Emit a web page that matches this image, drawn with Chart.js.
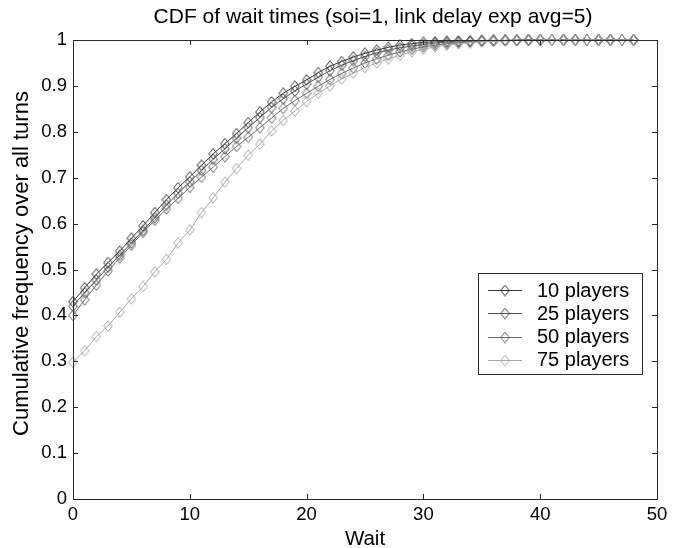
<!DOCTYPE html>
<html>
<head>
<meta charset="utf-8">
<script src="https://cdn.jsdelivr.net/npm/chart.js@4/dist/chart.umd.min.js"></script>
<style>
html,body{margin:0;padding:0;background:#fff;}
#wrap{width:685px;height:548px;position:relative;}
</style>
</head>
<body>
<div id="wrap"><canvas id="c" width="685" height="548"></canvas></div>
<script>
const waits = [0,1,2,3,4,5,6,7,8,9,10,11,12,13,14,15,16,17,18,19,20,21,22,23,24,25,26,27,28,29,30,31,32,33,34,35,36,37,38,39,40,41,42,43,44,45,46,47,48];
const seriesNames = ["10 players","25 players","50 players","75 players"];
const players10 = [0.430,0.460,0.490,0.515,0.540,0.568,0.595,0.624,0.652,0.678,
0.702,0.727,0.752,0.774,0.796,0.820,0.843,0.865,0.884,0.899,
0.913,0.929,0.943,0.953,0.963,0.971,0.978,0.984,0.989,0.992,
0.995,0.996,0.997,0.998,0.998,0.999,0.999,0.999,1.000,1.000,
1.000,1.000,1.000,1.000,1.000,1.000,1.000,1.000,1.000];
const players25 = [0.420,0.450,0.477,0.505,0.531,0.558,0.585,0.613,0.640,0.666,
0.691,0.716,0.740,0.763,0.786,0.809,0.831,0.853,0.872,0.889,
0.904,0.919,0.933,0.945,0.955,0.964,0.972,0.978,0.983,0.987,
0.990,0.993,0.995,0.996,0.997,0.998,0.999,0.999,0.999,1.000,
1.000,1.000,1.000,1.000,1.000,1.000,1.000,1.000,1.000];
const players50 = [0.400,0.434,0.466,0.497,0.525,0.553,0.581,0.607,0.632,0.655,
0.679,0.701,0.723,0.746,0.768,0.788,0.809,0.830,0.851,0.868,
0.884,0.899,0.914,0.927,0.939,0.950,0.959,0.967,0.974,0.980,
0.985,0.989,0.992,0.994,0.996,0.997,0.998,0.999,0.999,1.000,
1.000,1.000,1.000,1.000,1.000,1.000,1.000,1.000,1.000];
const players75 = [0.298,0.323,0.354,0.377,0.407,0.436,0.463,0.495,0.522,0.558,
0.586,0.624,0.656,0.690,0.720,0.749,0.773,0.802,0.825,0.845,
0.866,0.884,0.900,0.915,0.928,0.940,0.950,0.959,0.967,0.974,
0.980,0.985,0.989,0.992,0.994,0.996,0.997,0.998,0.999,0.999,
1.000,1.000,1.000,1.000,1.000,1.000,1.000,1.000,1.000];
const xTicks = [0,10,20,30,40,50];
const yTicks = [0,0.1,0.2,0.3,0.4,0.5,0.6,0.7,0.8,0.9,1];
const titleText = "CDF of wait times (soi=1, link delay exp avg=5)";
const xTitle = "Wait";
const yTitle = "Cumulative frequency over all turns";

const colors = ["#383838","#505050","#686868","#a8a8a8"];
const FONT = "'Liberation Sans', Arial, sans-serif";
const AXIS = "#2a2a2a";

function makeDiamond(color){
  const w = 10, h = 12;
  const cv = document.createElement('canvas');
  cv.width = w; cv.height = h;
  const g = cv.getContext('2d');
  g.strokeStyle = color; g.lineWidth = 1;
  g.beginPath();
  g.moveTo(w/2, 0.7); g.lineTo(w-0.7, h/2); g.lineTo(w/2, h-0.7); g.lineTo(0.7, h/2); g.closePath();
  g.stroke();
  return cv;
}

const allSeries = [players10, players25, players50, players75];
const datasets = allSeries.map((arr, i) => ({
  label: seriesNames[i],
  data: waits.map((w, j) => ({x: w, y: arr[j]})),
  borderColor: colors[i],
  backgroundColor: colors[i],
  borderWidth: 1,
  pointStyle: makeDiamond(colors[i]),
  pointRadius: 5,
  tension: 0,
  clip: false,
  order: 4 - i
}));

const frame = {
  id: 'frame',
  afterDatasetsDraw(chart){
    const {ctx, chartArea: a, scales} = chart;
    ctx.save();
    ctx.strokeStyle = AXIS; ctx.lineWidth = 1;
    ctx.strokeRect(Math.round(a.left)+0.5, Math.round(a.top)+0.5, Math.round(a.right-a.left), Math.round(a.bottom-a.top));
    const L = 5;
    ctx.beginPath();
    xTicks.forEach(v => {
      const x = Math.round(scales.x.getPixelForValue(v)) + 0.5;
      ctx.moveTo(x, a.bottom); ctx.lineTo(x, a.bottom - L);
      ctx.moveTo(x, a.top); ctx.lineTo(x, a.top + L);
    });
    yTicks.forEach(v => {
      const y = Math.round(scales.y.getPixelForValue(v)) + 0.5;
      ctx.moveTo(a.left, y); ctx.lineTo(a.left + L, y);
      ctx.moveTo(a.right, y); ctx.lineTo(a.right - L, y);
    });
    ctx.stroke();
    ctx.fillStyle = "#000";
    ctx.textAlign = "center"; ctx.textBaseline = "middle";
    // title
    ctx.font = "21px " + FONT;
    ctx.fillText(titleText, (a.left + a.right)/2 + 8, 17);
    // x title
    ctx.font = "20.5px " + FONT;
    ctx.fillText(xTitle, (a.left + a.right)/2, 539);
    // y title
    ctx.save();
    ctx.translate(22, (a.top + a.bottom)/2 - 6);
    ctx.rotate(-Math.PI/2);
    ctx.font = "22px " + FONT;
    ctx.fillText(yTitle, 0, 0);
    ctx.restore();
    // legend
    const bx = 478, by = 273, bw = 164, bh = 101;
    ctx.fillStyle = "#fff";
    ctx.fillRect(bx, by, bw, bh);
    ctx.strokeStyle = AXIS;
    ctx.strokeRect(bx + 0.5, by + 0.5, bw, bh);
    chart.data.datasets.forEach((ds, i) => {
      const y = by + 17 + i * 23.3;
      ctx.strokeStyle = ds.borderColor; ctx.lineWidth = 1;
      ctx.beginPath(); ctx.moveTo(bx + 10, Math.round(y)+0.5); ctx.lineTo(bx + 44, Math.round(y)+0.5); ctx.stroke();
      ctx.drawImage(ds.pointStyle, bx + 27 - 5, Math.round(y) - 5.5);
      ctx.fillStyle = "#000";
      ctx.font = "20px " + FONT;
      ctx.textAlign = "left"; ctx.textBaseline = "middle";
      ctx.fillText(ds.label, bx + 59, y + 1);
    });
    ctx.restore();
  }
};

new Chart(document.getElementById('c'), {
  type: 'line',
  data: { datasets },
  plugins: [frame],
  options: {
    responsive: false,
    animation: false,
    devicePixelRatio: 1,
    layout: { padding: { top: 40, right: 28, left: 0, bottom: 0 } },
    plugins: { legend: { display: false }, title: { display: false }, tooltip: { enabled: false } },
    scales: {
      x: {
        type: 'linear', min: 0, max: 50,
        afterBuildTicks: s => { s.ticks = xTicks.map(v => ({value: v})); },
        afterFit: s => { s.height = 49; },
        grid: { display: false, drawTicks: false },
        border: { display: false },
        ticks: { color: "#000", font: { size: 18.5, family: FONT }, padding: 5, maxRotation: 0 },
        title: { display: false }
      },
      y: {
        type: 'linear', min: 0, max: 1,
        afterBuildTicks: s => { s.ticks = yTicks.map(v => ({value: v})); },
        afterFit: s => { s.width = 73; },
        grid: { display: false, drawTicks: false },
        border: { display: false },
        ticks: { color: "#000", font: { size: 18.5, family: FONT }, padding: 6, callback: v => String(Math.round(v*10)/10) },
        title: { display: false }
      }
    }
  }
});
</script>
</body>
</html>
